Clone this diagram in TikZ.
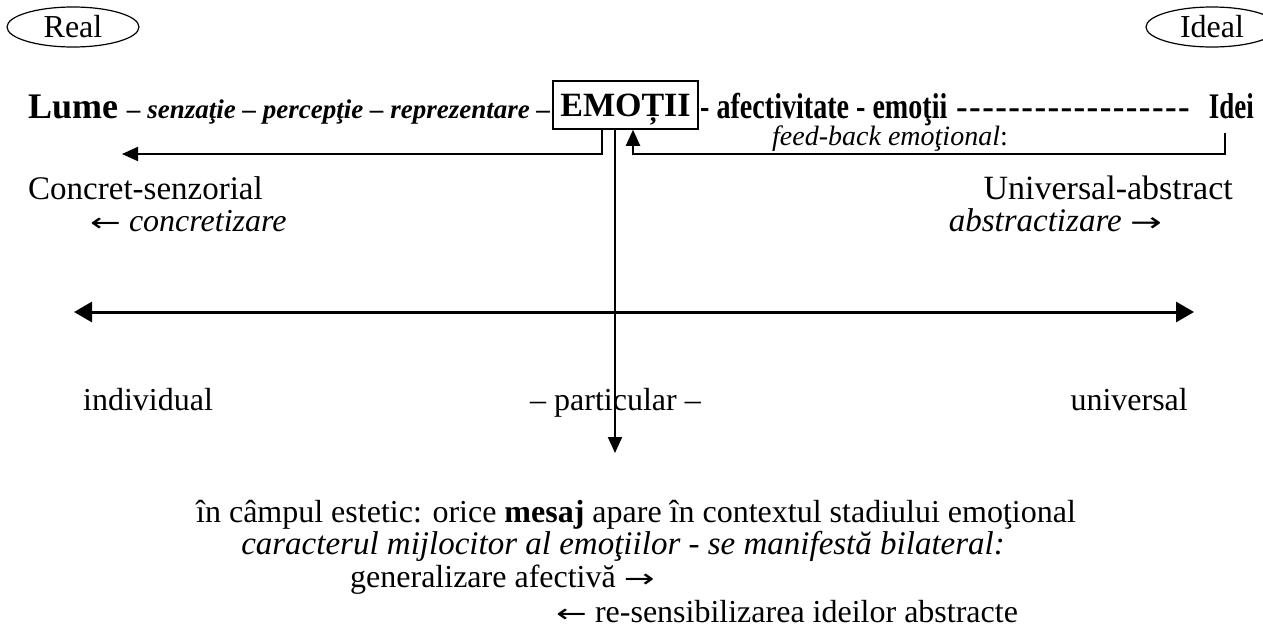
\documentclass[tikz,border=0pt]{standalone}
\usepackage{fontspec}
\usepackage{graphicx}
\setmainfont{Liberation Serif}
\newfontfamily\arrfont{DejaVu Sans}
\usetikzlibrary{arrows.meta,shapes.geometric,positioning}

\newcommand\fsz[1]{\fontsize{#1}{#1}\selectfont}
\newcommand\dashrun{\foreach \k in {1,...,18}{-\kern1.4pt}}
\newcommand\larr{{\upshape\arrfont\scalebox{1.15}[0.8]{←}}}
\newcommand\rarr{{\upshape\arrfont\scalebox{1.15}[0.8]{→}}}

\tikzset{
  txt/.style={inner sep=0pt, font=\fsz{32}},
  oval/.style={ellipse, draw, line width=1.2pt, minimum width=132, minimum height=40, inner sep=0pt, font=\fsz{32}},
  emobox/.style={draw, line width=1.5pt, minimum width=145, text height=27, text depth=5, inner ysep=8, inner xsep=0pt, font=\fsz{34}\bfseries},
  conn/.style={line width=2pt, -{Triangle[length=16,width=14]}},
}

\begin{document}
\begin{tikzpicture}[x=1pt,y=-1pt]
    % page frame (pixel grid)
    \useasboundingbox (0,0) rectangle (1263,637);
    % Real / Ideal
    \node[oval] (real) at (73,27) {Real};
    \node[oval] (ideal) at (1212,27) {Ideal};
    % top line
    \node[txt, anchor=base west] (lume) at (28,118) {\fsz{36}\bfseries Lume {\fsz{27}\itshape -- senzaţie -- percepţie -- reprezentare --}};
    \node[emobox, anchor=base] (emo) at (625.5,116) {EMOȚII};
    \node[txt, anchor=base west] (afect) at (700,118) {\scalebox{0.78}[1]{\fsz{36}\bfseries - afectivitate - emoţii}};
    \node[txt, anchor=base west] (dashes) at (956,118) {\fsz{35}\bfseries\dashrun};
    \node[txt, anchor=base east] (idei) at (1254,118) {\scalebox{0.75}[1]{\fsz{36}\bfseries Idei}};
    \node[txt, anchor=base west] (fbtext) at (772,145) {\fsz{28}\itshape feed-back emoţional\upshape:};
    % arrows from the box
    \coordinate (leftend) at (122,154);
    \coordinate (fbstart) at (1225,133);
    \coordinate (down) at (615,453);
    \draw[conn] ([xshift=-23.5]emo.south) |- (leftend);
    \draw[conn] (fbstart) -- (fbstart |- leftend) -| ([xshift=7.5]emo.south);
    \draw[conn] ([xshift=-10.5]emo.south) -- (down);
    % concret / abstract
    \node[txt, anchor=base west, font=\fsz{33}] (concret) at (28,199) {Concret-senzorial};
    \node[txt, anchor=base west, font=\fsz{32}] (concz) at (90,231) {\larr\ \textit{concretizare}};
    \node[txt, anchor=base east, font=\fsz{34}] (univabs) at (1233,199) {Universal-abstract};
    \node[txt, anchor=base east, font=\fsz{33}] (abstz) at (1162,231) {\textit{abstractizare} \rarr};
    % axis
    \coordinate (axL) at (74,312);
    \coordinate (axR) at (1194,312);
    \draw[line width=3pt, {Triangle[length=18,width=20]}-{Triangle[length=18,width=20]}] (axL) -- (axR);
    \node[txt, anchor=base west] (indiv) at (83,410) {individual};
    \node[txt, anchor=base west] (partic) at (530,410) {-- particular --};
    \node[txt, anchor=base east] (univ) at (1188,410) {universal};
    % bottom text
    \node[txt, anchor=base] (camp) at (636,522) {în câmpul estetic: orice \textbf{mesaj} apare în contextul stadiului emoţional};
    \node[txt, anchor=base, font=\fsz{33}] (caract) at (623,554) {\itshape caracterul mijlocitor al emoţiilor - se manifestă bilateral:};
    \node[txt, anchor=base west] (gen) at (350,587) {generalizare afectivă \rarr};
    \node[txt, anchor=base west] (resens) at (556,622) {\larr\ re-sensibilizarea ideilor abstracte};
\end{tikzpicture}
\end{document}
